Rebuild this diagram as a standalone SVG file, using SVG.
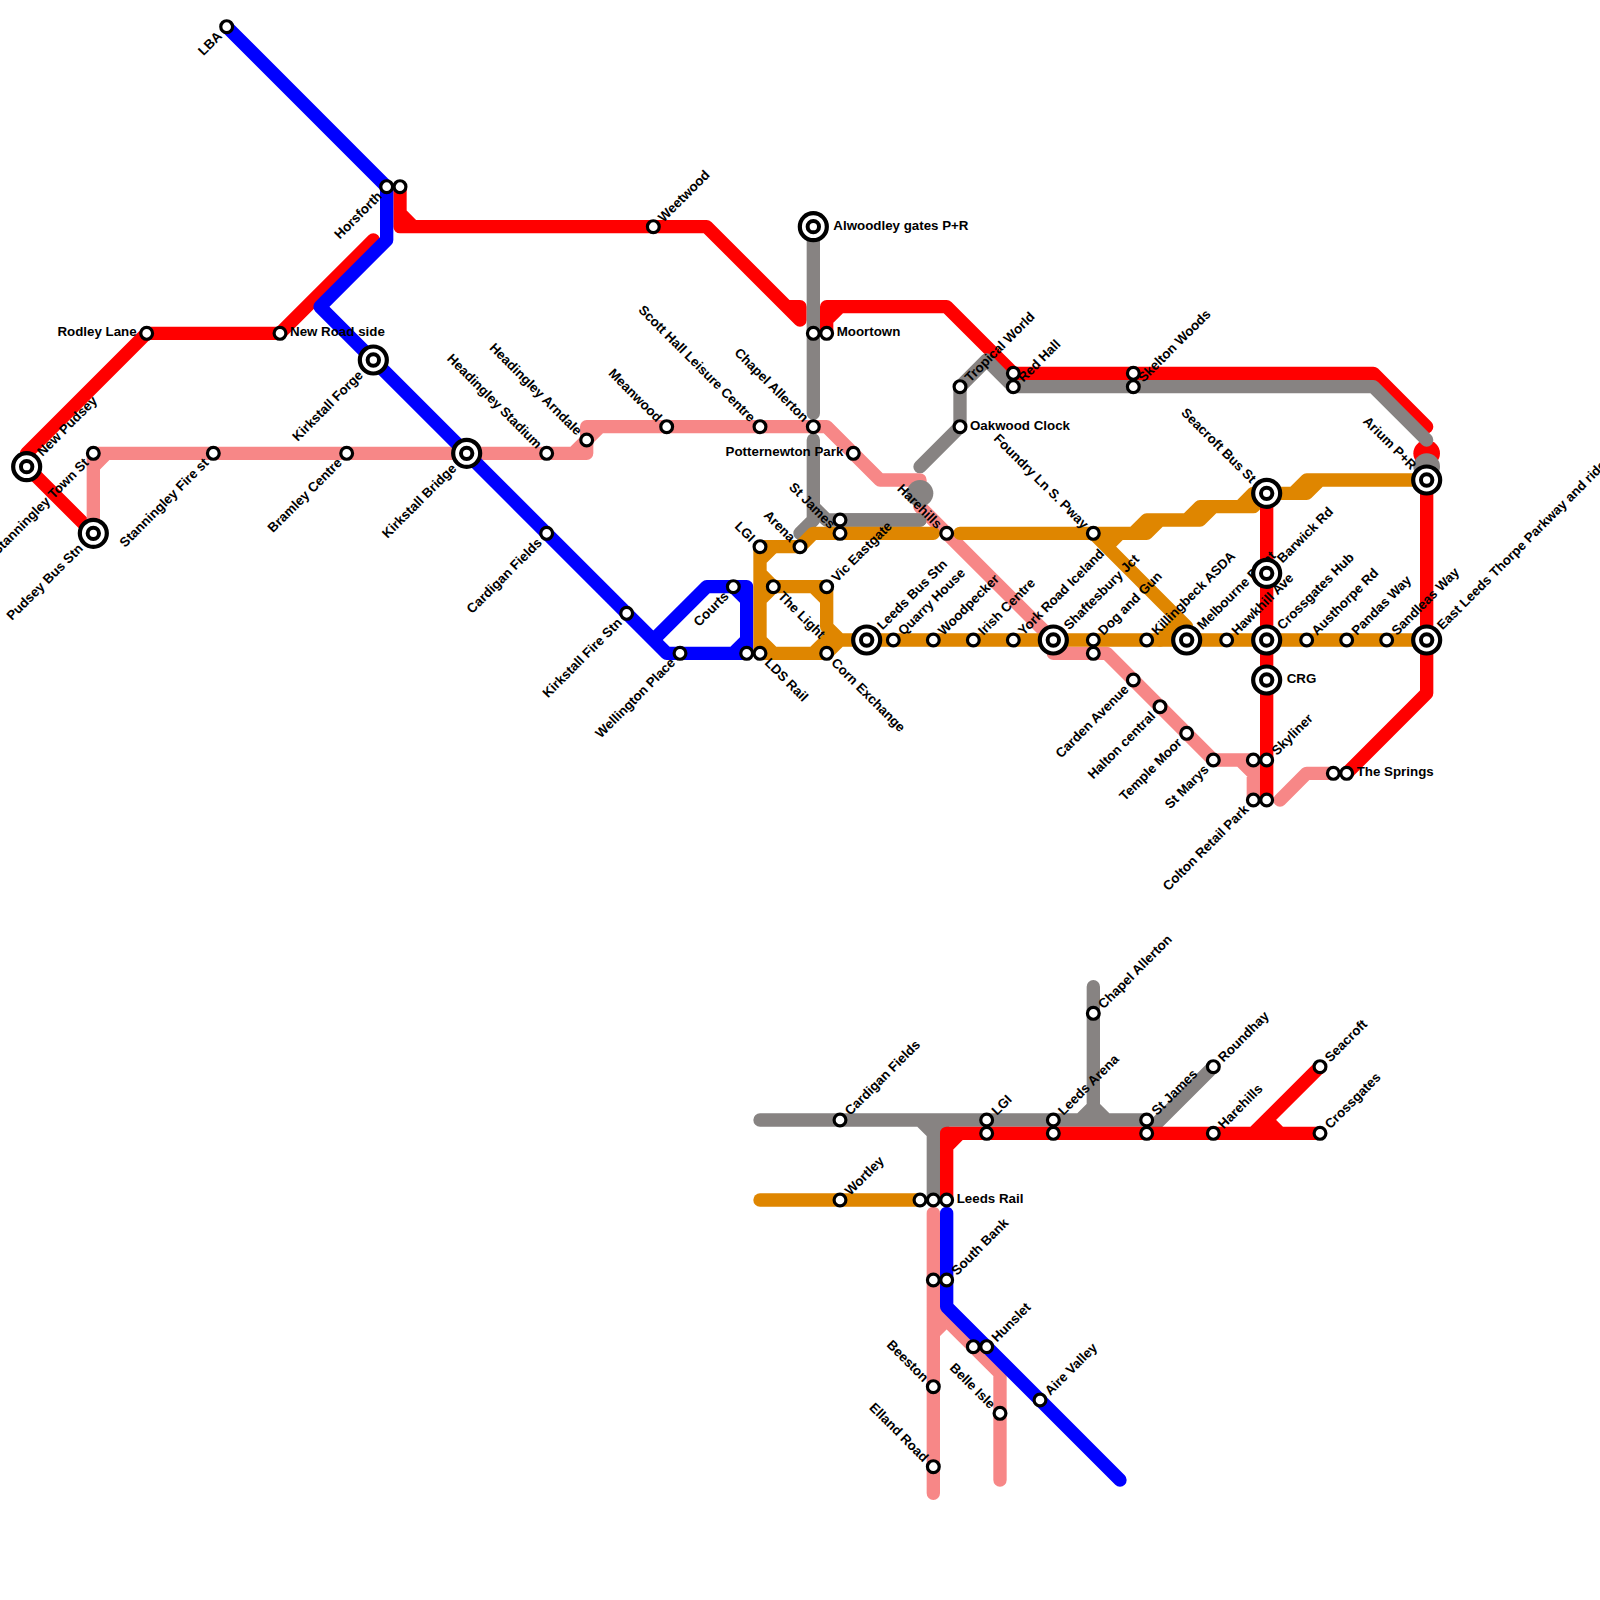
<svg xmlns="http://www.w3.org/2000/svg" width="1600" height="1600" viewBox="0 0 1600 1600">
<style>
text{font-family:"Liberation Sans",Arial,sans-serif;font-weight:700;font-size:13.33px;fill:#000}
.ne{transform:rotate(-45deg)}
.se{transform:rotate(45deg)}
.nw{transform:rotate(45deg);text-anchor:end}
.sw{transform:rotate(-45deg);text-anchor:end}
.w{text-anchor:end}
.l{fill:none;stroke-width:1;stroke-linecap:round;stroke-linejoin:round}
.red{stroke:#f00}.blue{stroke:#00f}.pink{stroke:#f78787}.grey{stroke:#878382}.orange{stroke:#df8600}
.fr{fill:#f00}.fg{fill:#878382}
.c{fill:#fff;stroke:#000}
</style>
<defs>
<circle id="s" class="c" r="5.9" stroke-width="3.2"/>
<g id="b"><circle class="c" r="13.5" stroke-width="4.2"/><circle class="c" r="5.7" stroke-width="4"/></g>
</defs>
<rect width="1600" height="1600" fill="#fff"/>
<g id="connectors" transform="scale(13.33333)">
<path class="l red" d="M28 18L21 25H11L2 34V35L7 40"/>
<path class="l red" d="M30 14V17H53L60 24M59 23H60V24M30 16L31 17"/>
<path class="l red" d="M62 25V23H71L76 28H103L107 32M62 24L63 23"/>
<circle class="fr" cx="107" cy="34" r="1"/>
<path class="l red" d="M107 36V52L101 58"/>
<path class="l grey" d="M61 17V31M61 33V39L60 40M61 38L62 39H69"/>
<path class="l grey" d="M69 35L72 32V29L74 27L76 29H103L107 33"/>
<circle class="fg" cx="107" cy="35" r="1"/>
<path class="l pink" d="M7 40V34H44V32H62L66 36H69V38L79 48V49H83L91 57H94V60M7 35L8 34M43 34L44 33L45 32M93 57L94 58M96 60L98 58H100"/>
<circle class="fg" cx="69" cy="37" r="1"/>
<path class="l grey" d="M63 39H69"/>
<path class="l blue" d="M17 2L29 14V18L24 23L50 49H56V44H53L49 48M55 44L56 45M56 48L55 49"/>
<path class="l orange" d="M57 41H60L61 40H70M72 40H85L86 39H89L90 38H93L94 37H97L98 36H107M82 40H86L87 39H90L91 38H94L95 37H98L99 36M83 41L84 40M82 40L89 47V48M87 48L88.5 46.5"/>
<path class="l orange" d="M57 41V49H62L63 48H107M57 42L58 41M57 43L58 44M57 45L58 44H62V47L63 48M61 44L62 45M57 48L58 49M61 49L62 48"/>
<path class="l red" d="M95 37V60"/>
<path class="l grey" d="M57 84H86M82 74V84M81 84L82 83L83 84M86 85L91 80M69 84L70 85L71 84M70 85V90"/>
<path class="l red" d="M71 90V85H99M71 86L72 85M94 85L99 80M95 84L96 85"/>
<path class="l orange" d="M57 90H69"/>
<path class="l pink" d="M70 91V112M70 98L75 103V111M70 100L71 99"/>
<path class="l blue" d="M71 91V98L84 111"/>
</g>
<g id="nodes">
<g id="n1" transform="translate(226.67,26.67)"><use href="#s"/><text class="sw" x="-10" y="4.5">LBA</text></g>
<g id="n2" transform="translate(386.67,186.67)"><use href="#s"/><text class="sw" x="-10" y="4.5">Horsforth</text></g>
<g id="n3" transform="translate(400,186.67)"><use href="#s"/></g>
<g id="n4" transform="translate(146.67,333.33)"><use href="#s"/><text class="w" x="-10" y="3">Rodley Lane</text></g>
<g id="n5" transform="translate(280,333.33)"><use href="#s"/><text x="10" y="3">New Road side</text></g>
<g id="n6" transform="translate(26.67,466.67)"><use href="#b"/><text class="ne" x="18" y="4.5">New Pudsey</text></g>
<g id="n7" transform="translate(93.33,533.33)"><use href="#b"/><text class="sw" x="-18" y="4.5">Pudsey Bus Stn</text></g>
<g id="n8" transform="translate(93.33,453.33)"><use href="#s"/><text class="sw" x="-10" y="4.5">Stanningley Town St</text></g>
<g id="n9" transform="translate(213.33,453.33)"><use href="#s"/><text class="sw" x="-10" y="4.5">Stanningley Fire st</text></g>
<g id="n10" transform="translate(346.67,453.33)"><use href="#s"/><text class="sw" x="-10" y="4.5">Bramley Centre</text></g>
<g id="n11" transform="translate(373.33,360)"><use href="#b"/><text class="sw" x="-18" y="4.5">Kirkstall Forge</text></g>
<g id="n12" transform="translate(466.67,453.33)"><use href="#b"/><text class="sw" x="-18" y="4.5">Kirkstall Bridge</text></g>
<g id="n13" transform="translate(546.67,453.33)"><use href="#s"/><text class="nw" x="-10" y="4.5">Headingley Stadium</text></g>
<g id="n14" transform="translate(586.67,440)"><use href="#s"/><text class="nw" x="-10" y="4.5">Headingley Arndale</text></g>
<g id="n15" transform="translate(546.67,533.33)"><use href="#s"/><text class="sw" x="-10" y="4.5">Cardigan Fields</text></g>
<g id="n16" transform="translate(626.67,613.33)"><use href="#s"/><text class="sw" x="-10" y="4.5">Kirkstall Fire Stn</text></g>
<g id="n17" transform="translate(680,653.33)"><use href="#s"/><text class="sw" x="-10" y="4.5">Wellington Place</text></g>
<g id="n18" transform="translate(733.33,586.67)"><use href="#s"/><text class="sw" x="-10" y="4.5">Courts</text></g>
<g id="n19" transform="translate(746.67,653.33)"><use href="#s"/></g>
<g id="n20" transform="translate(760,653.33)"><use href="#s"/><text class="se" x="10" y="4.5">LDS Rail</text></g>
<g id="n21" transform="translate(773.33,586.67)"><use href="#s"/><text class="se" x="10" y="4.5">The Light</text></g>
<g id="n22" transform="translate(826.67,653.33)"><use href="#s"/><text class="se" x="10" y="4.5">Corn Exchange</text></g>
<g id="n23" transform="translate(826.67,586.67)"><use href="#s"/><text class="ne" x="10" y="4.5">Vic Eastgate</text></g>
<g id="n24" transform="translate(760,546.67)"><use href="#s"/><text class="nw" x="-10" y="4.5">LGI</text></g>
<g id="n25" transform="translate(800,546.67)"><use href="#s"/><text class="nw" x="-10" y="4.5">Arena</text></g>
<g id="n26" transform="translate(840,520)"><use href="#s"/></g>
<g id="n27" transform="translate(840,533.33)"><use href="#s"/><text class="nw" x="-10" y="4.5">St James</text></g>
<g id="n28" transform="translate(653.33,226.67)"><use href="#s"/><text class="ne" x="10" y="4.5">Weetwood</text></g>
<g id="n29" transform="translate(666.67,426.67)"><use href="#s"/><text class="nw" x="-10" y="4.5">Meanwood</text></g>
<g id="n30" transform="translate(760,426.67)"><use href="#s"/><text class="nw" x="-10" y="4.5">Scott Hall Leisure Centre</text></g>
<g id="n31" transform="translate(813.33,426.67)"><use href="#s"/><text class="nw" x="-10" y="4.5">Chapel Allerton</text></g>
<g id="n32" transform="translate(813.33,226.67)"><use href="#b"/><text x="20" y="3">Alwoodley gates P+R</text></g>
<g id="n33" transform="translate(813.33,333.33)"><use href="#s"/></g>
<g id="n34" transform="translate(826.67,333.33)"><use href="#s"/><text x="10" y="3">Moortown</text></g>
<g id="n35" transform="translate(853.33,453.33)"><use href="#s"/><text class="w" x="-10" y="3">Potternewton Park</text></g>
<g id="n36" transform="translate(960,386.67)"><use href="#s"/><text class="ne" x="10" y="4.5">Tropical World</text></g>
<g id="n37" transform="translate(960,426.67)"><use href="#s"/><text x="10" y="3">Oakwood Clock</text></g>
<g id="n38" transform="translate(1013.33,373.33)"><use href="#s"/></g>
<g id="n39" transform="translate(1013.33,386.67)"><use href="#s"/><text class="ne" x="10" y="4.5">Red Hall</text></g>
<g id="n40" transform="translate(1133.33,373.33)"><use href="#s"/></g>
<g id="n41" transform="translate(1133.33,386.67)"><use href="#s"/><text class="ne" x="10" y="4.5">Skelton Woods</text></g>
<g id="n42" transform="translate(1093.33,533.33)"><use href="#s"/><text class="nw" x="-10" y="4.5">Foundry Ln S. Pway</text></g>
<g id="n43" transform="translate(946.67,533.33)"><use href="#s"/><text class="nw" x="-10" y="4.5">Harehills</text></g>
<g id="n44" transform="translate(866.67,640)"><use href="#b"/><text class="ne" x="18" y="4.5">Leeds Bus Stn</text></g>
<g id="n45" transform="translate(893.33,640)"><use href="#s"/><text class="ne" x="10" y="4.5">Quarry House</text></g>
<g id="n46" transform="translate(933.33,640)"><use href="#s"/><text class="ne" x="10" y="4.5">Woodpecker</text></g>
<g id="n47" transform="translate(973.33,640)"><use href="#s"/><text class="ne" x="10" y="4.5">Irish Centre</text></g>
<g id="n48" transform="translate(1013.33,640)"><use href="#s"/><text class="ne" x="10" y="4.5">York Road Iceland</text></g>
<g id="n49" transform="translate(1053.33,640)"><use href="#b"/><text class="ne" x="18" y="4.5">Shaftesbury Jct</text></g>
<g id="n50" transform="translate(1093.33,640)"><use href="#s"/><text class="ne" x="10" y="4.5">Dog and Gun</text></g>
<g id="n51" transform="translate(1093.33,653.33)"><use href="#s"/></g>
<g id="n52" transform="translate(1133.33,680)"><use href="#s"/><text class="sw" x="-10" y="4.5">Carden Avenue</text></g>
<g id="n53" transform="translate(1160,706.67)"><use href="#s"/><text class="sw" x="-10" y="4.5">Halton central</text></g>
<g id="n54" transform="translate(1186.67,733.33)"><use href="#s"/><text class="sw" x="-10" y="4.5">Temple Moor</text></g>
<g id="n55" transform="translate(1213.33,760)"><use href="#s"/><text class="sw" x="-10" y="4.5">St Marys</text></g>
<g id="n56" transform="translate(1146.67,640)"><use href="#s"/><text class="ne" x="10" y="4.5">Killingbeck ASDA</text></g>
<g id="n57" transform="translate(1186.67,640)"><use href="#b"/><text class="ne" x="18" y="4.5">Melbourne Point</text></g>
<g id="n58" transform="translate(1226.67,640)"><use href="#s"/><text class="ne" x="10" y="4.5">Hawkhill Ave</text></g>
<g id="n59" transform="translate(1266.67,493.33)"><use href="#b"/><text class="nw" x="-18" y="4.5">Seacroft Bus St</text></g>
<g id="n60" transform="translate(1266.67,573.33)"><use href="#b"/><text class="ne" x="18" y="4.5">Barwick Rd</text></g>
<g id="n61" transform="translate(1266.67,640)"><use href="#b"/><text class="ne" x="18" y="4.5">Crossgates Hub</text></g>
<g id="n62" transform="translate(1266.67,680)"><use href="#b"/><text x="20" y="3">CRG</text></g>
<g id="n63" transform="translate(1253.33,760)"><use href="#s"/></g>
<g id="n64" transform="translate(1266.67,760)"><use href="#s"/><text class="ne" x="10" y="4.5">Skyliner</text></g>
<g id="n65" transform="translate(1253.33,800)"><use href="#s"/><text class="sw" x="-10" y="4.5">Colton Retail Park</text></g>
<g id="n66" transform="translate(1266.67,800)"><use href="#s"/></g>
<g id="n67" transform="translate(1306.67,640)"><use href="#s"/><text class="ne" x="10" y="4.5">Austhorpe Rd</text></g>
<g id="n68" transform="translate(1346.67,640)"><use href="#s"/><text class="ne" x="10" y="4.5">Pandas Way</text></g>
<g id="n69" transform="translate(1386.67,640)"><use href="#s"/><text class="ne" x="10" y="4.5">Sandleas Way</text></g>
<g id="n70" transform="translate(1426.67,640)"><use href="#b"/><text class="ne" x="18" y="4.5">East Leeds Thorpe Parkway and ride</text></g>
<g id="n71" transform="translate(1426.67,480)"><use href="#b"/><text class="nw" x="-18" y="4.5">Arium P+R</text></g>
<g id="n72" transform="translate(1333.33,773.33)"><use href="#s"/></g>
<g id="n73" transform="translate(1346.67,773.33)"><use href="#s"/><text x="10" y="3">The Springs</text></g>
<g id="n74" transform="translate(840,1120)"><use href="#s"/><text class="ne" x="10" y="4.5">Cardigan Fields</text></g>
<g id="n75" transform="translate(840,1200)"><use href="#s"/><text class="ne" x="10" y="4.5">Wortley</text></g>
<g id="n76" transform="translate(986.67,1120)"><use href="#s"/><text class="ne" x="10" y="4.5">LGI</text></g>
<g id="n77" transform="translate(986.67,1133.33)"><use href="#s"/></g>
<g id="n78" transform="translate(1053.33,1120)"><use href="#s"/><text class="ne" x="10" y="4.5">Leeds Arena</text></g>
<g id="n79" transform="translate(1053.33,1133.33)"><use href="#s"/></g>
<g id="n80" transform="translate(1093.33,1013.33)"><use href="#s"/><text class="ne" x="10" y="4.5">Chapel Allerton</text></g>
<g id="n81" transform="translate(1146.67,1120)"><use href="#s"/><text class="ne" x="10" y="4.5">St James</text></g>
<g id="n82" transform="translate(1146.67,1133.33)"><use href="#s"/></g>
<g id="n83" transform="translate(1213.33,1066.67)"><use href="#s"/><text class="ne" x="10" y="4.5">Roundhay</text></g>
<g id="n84" transform="translate(1213.33,1133.33)"><use href="#s"/><text class="ne" x="10" y="4.5">Harehills</text></g>
<g id="n85" transform="translate(1320,1066.67)"><use href="#s"/><text class="ne" x="10" y="4.5">Seacroft</text></g>
<g id="n86" transform="translate(1320,1133.33)"><use href="#s"/><text class="ne" x="10" y="4.5">Crossgates</text></g>
<g id="n87" transform="translate(920,1200)"><use href="#s"/></g>
<g id="n88" transform="translate(933.33,1200)"><use href="#s"/></g>
<g id="n89" transform="translate(946.67,1200)"><use href="#s"/><text x="10" y="3">Leeds Rail</text></g>
<g id="n90" transform="translate(933.33,1280)"><use href="#s"/></g>
<g id="n91" transform="translate(946.67,1280)"><use href="#s"/><text class="ne" x="10" y="4.5">South Bank</text></g>
<g id="n92" transform="translate(933.33,1386.67)"><use href="#s"/><text class="nw" x="-10" y="4.5">Beeston</text></g>
<g id="n93" transform="translate(933.33,1466.67)"><use href="#s"/><text class="nw" x="-10" y="4.5">Elland Road</text></g>
<g id="n94" transform="translate(1000,1413.33)"><use href="#s"/><text class="nw" x="-10" y="4.5">Belle Isle</text></g>
<g id="n95" transform="translate(973.33,1346.67)"><use href="#s"/></g>
<g id="n96" transform="translate(986.67,1346.67)"><use href="#s"/><text class="ne" x="10" y="4.5">Hunslet</text></g>
<g id="n97" transform="translate(1040,1400)"><use href="#s"/><text class="ne" x="10" y="4.5">Aire Valley</text></g>
</g>
</svg>
